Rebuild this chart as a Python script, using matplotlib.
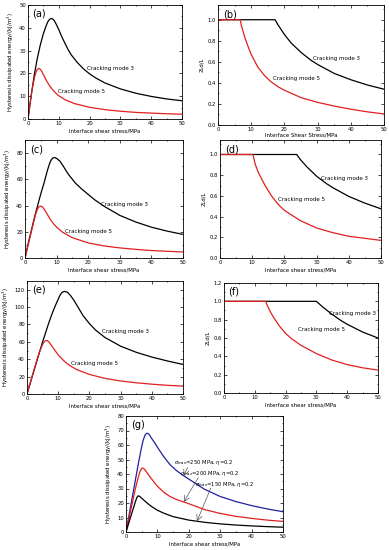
import matplotlib
matplotlib.use("Agg")
import matplotlib.pyplot as plt
from matplotlib.ticker import MultipleLocator, AutoMinorLocator

# ---- panel (a) ----
a_x3 = [0, 1, 2, 3, 4, 5, 6, 6.5, 7, 7.5, 8, 8.5, 9, 10, 11, 12, 13, 14, 16, 18, 20, 22, 25, 30, 35, 40, 45, 50]
a_y3 = [0, 10, 19, 26.5, 32.5, 37.5, 41.3, 42.8, 43.7, 44.1, 43.9, 43.2, 42.0, 39.2, 36.0, 33.2, 30.5, 28.2, 24.8, 22.0, 19.8, 18.0, 15.8, 13.2, 11.3, 9.9, 8.8, 8.0]
a_x5 = [0, 0.5, 1, 1.5, 2, 2.5, 3, 3.5, 4, 4.5, 5, 6, 7, 8, 9, 10, 12, 15, 20, 25, 30, 35, 40, 45, 50]
a_y5 = [0, 5, 10, 14, 17.5, 20.2, 21.7, 22.2, 21.8, 20.8, 19.5, 16.8, 14.6, 12.8, 11.4, 10.2, 8.5, 6.8, 5.1, 4.1, 3.4, 2.9, 2.6, 2.3, 2.1]

# ---- panel (c) ----
c_x3 = [0, 1, 2, 3, 4, 5, 6, 7, 7.5, 8, 8.5, 9, 9.5, 10, 11, 12, 13, 14, 15, 16, 18, 20, 22, 25, 30, 35, 40, 45, 50]
c_y3 = [0, 11, 21, 31, 40, 49, 57, 66, 70, 73.5, 75.5, 76.5, 76.5, 76.0, 74.0, 70.5, 66.5, 63.0, 60.0, 57.0, 52.5, 48.5, 44.5, 39.5, 32.5, 27.5, 23.5, 20.5, 18.0]
c_x5 = [0, 0.5, 1, 2, 3, 3.5, 4, 4.5, 5, 5.5, 6, 7, 8, 9, 10, 12, 15, 20, 25, 30, 35, 40, 45, 50]
c_y5 = [0, 5, 10, 20, 30, 34.5, 37.5, 39.2, 39.6, 39, 37.5, 33.5, 29.5, 26.2, 23.5, 19.5, 15.5, 11.5, 9.2, 7.7, 6.6, 5.7, 5.1, 4.6]

# ---- panel (e) ----
e_x3 = [0, 1, 2, 3, 4, 5, 6, 7, 8, 9, 10, 10.5, 11, 11.5, 12, 12.5, 13, 14, 15, 16, 17, 18, 20, 22, 25, 30, 35, 40, 45, 50]
e_y3 = [0, 12, 24, 36, 48, 60, 71, 82, 92, 101, 109, 113, 116, 117.5, 118, 117.5, 117, 113, 108, 102, 96, 90, 81, 73.5, 65, 55, 48, 42.5, 38, 34]
e_x5 = [0, 1, 2, 3, 4, 5, 5.5, 6, 6.5, 7, 8, 10, 12, 14, 16, 20, 25, 30, 35, 40, 45, 50]
e_y5 = [0, 12, 25, 37, 48.5, 57, 60, 61.5, 61.3, 60, 55, 45, 37.5, 32, 28, 22.5, 18, 15, 12.9, 11.3, 10, 9]

# ---- panel (g) ----
g_x250 = [0, 1, 2, 3, 4, 5, 5.5, 6, 6.5, 7, 7.5, 8, 9, 10, 12, 14, 16, 18, 20, 25, 30, 35, 40, 45, 50]
g_y250 = [0, 12, 24, 36, 48, 59, 63.5, 66.5, 68, 68, 67, 65, 62, 58.5, 52, 46.5, 42.5, 39.3, 36.5, 29.5, 24.5, 21, 18.2, 15.9, 14]
g_x200 = [0, 1, 2, 3, 4, 4.5, 5, 5.5, 6, 7, 8, 10, 12, 14, 16, 18, 20, 25, 30, 35, 40, 45, 50]
g_y200 = [0, 10, 20, 30, 38.5, 42, 44, 44, 43, 40, 37, 31.5, 27.5, 24.5, 22.5, 21, 19.5, 15.5, 12.8, 10.8, 9.4, 8.2, 7.3]
g_x150 = [0, 1, 2, 3, 3.5, 4, 4.5, 5.5, 7, 8, 10, 12, 15, 20, 25, 30, 35, 40, 45, 50]
g_y150 = [0, 7, 14, 21, 24, 25, 24.3, 22.3, 19.5, 17.8, 15, 13, 10.6, 8.2, 6.7, 5.6, 4.8, 4.2, 3.7, 3.3]

# ---- panel (b) ----
b_x3 = [0, 17.2, 18, 20, 22, 25, 28, 30, 35, 40, 45, 50]
b_y3 = [1.0, 1.0, 0.955, 0.86, 0.78, 0.69, 0.615, 0.575, 0.49, 0.43, 0.38, 0.34]
b_x5 = [0, 6.7, 7, 8, 9, 10, 12, 14, 16, 18, 20, 25, 30, 35, 40, 45, 50]
b_y5 = [1.0, 1.0, 0.95, 0.84, 0.75, 0.67, 0.55, 0.47, 0.41, 0.365, 0.33, 0.26, 0.215, 0.18, 0.15, 0.125, 0.105]

# ---- panel (d) ----
d_x3 = [0, 23.8, 25, 27, 30, 33, 35, 40, 45, 50]
d_y3 = [1.0, 1.0, 0.95, 0.88, 0.79, 0.72, 0.68, 0.595, 0.53, 0.475]
d_x5 = [0, 10.2, 11, 12, 13, 14, 16, 18, 20, 25, 30, 35, 40, 45, 50]
d_y5 = [1.0, 1.0, 0.9, 0.82, 0.76, 0.7, 0.6, 0.52, 0.46, 0.36, 0.29, 0.245, 0.21, 0.19, 0.17]

# ---- panel (f) ----
f_x3 = [0, 30, 32, 35, 38, 40, 45, 50]
f_y3 = [1.0, 1.0, 0.94, 0.86, 0.79, 0.75, 0.665, 0.6]
f_x5 = [0, 13.5, 14, 15, 16, 18, 20, 22, 25, 30, 35, 40, 45, 50]
f_y5 = [1.0, 1.0, 0.96, 0.89, 0.83, 0.73, 0.65, 0.59, 0.52, 0.43, 0.36, 0.31, 0.275, 0.25]

g_labels = [r"$\sigma_{max}$=250 MPa, $\eta$=0.2",
            r"$\sigma_{max}$=200 MPa, $\eta$=0.2",
            r"$\sigma_{max}$=150 MPa, $\eta$=0.2"]

W, H = 389, 550
TICK_FS = 3.8
XLAB_FS = 3.9
YLAB_FS = 3.9
TXT_FS = 4.0
RED = "#e02020"
ENERGY = "Hysteresis dissipated energy/(kJ/m$^3$)"


def make_axes(fig, left, right, top, bottom):
    return fig.add_axes([left / W, 1 - bottom / H, (right - left) / W, (bottom - top) / H])


def style(ax, ymax, ystep, letter, xlabel, ylabel, yfmt=None):
    ax.set_xlim(0, 50)
    ax.set_ylim(0, ymax)
    ax.xaxis.set_major_locator(MultipleLocator(10))
    ax.yaxis.set_major_locator(MultipleLocator(ystep))
    ax.xaxis.set_minor_locator(AutoMinorLocator(2))
    ax.yaxis.set_minor_locator(AutoMinorLocator(2))
    ax.tick_params(which="both", direction="in", top=True, right=True,
                   labelsize=TICK_FS, width=0.5, pad=1.5)
    ax.tick_params(which="major", length=2)
    ax.tick_params(which="minor", length=1)
    for s in ax.spines.values():
        s.set_linewidth(0.6)
    if yfmt:
        ax.yaxis.set_major_formatter(yfmt)
    ax.set_xlabel(xlabel, fontsize=XLAB_FS, labelpad=2)
    ax.set_ylabel(ylabel, fontsize=YLAB_FS, labelpad=2.5)
    ax.text(0.03, 0.965, letter, transform=ax.transAxes, fontsize=7,
            ha="left", va="top")


fig = plt.figure(figsize=(W / 100, H / 100), dpi=100)

# (a)
ax = make_axes(fig, 28, 182, 5, 119)
ax.plot(a_x3, a_y3, color="black", lw=0.9)
ax.plot(a_x5, a_y5, color=RED, lw=0.9)
style(ax, 50, 10, "(a)", "Interface shear stress/MPa", ENERGY)
ax.text(19, 22.3, "Cracking mode 3", fontsize=TXT_FS, va="center")
ax.text(9.9, 12, "Cracking mode 5", fontsize=TXT_FS, va="center")

# (b)
ax = make_axes(fig, 218, 384, 5, 125)
ax.plot(b_x3, b_y3, color="black", lw=0.9)
ax.plot(b_x5, b_y5, color=RED, lw=0.9)
style(ax, 1.14, 0.2, "(b)", "Interface Shear Stress/MPa", "2Ld/L", "{x:.1f}")
ax.xaxis.labelpad = 0.5
ax.text(28.5, 0.63, "Cracking mode 3", fontsize=TXT_FS, va="center")
ax.text(16.5, 0.44, "Cracking mode 5", fontsize=TXT_FS, va="center")

# (c)
ax = make_axes(fig, 25, 183, 140, 258)
ax.plot(c_x3, c_y3, color="black", lw=0.9)
ax.plot(c_x5, c_y5, color=RED, lw=0.9)
style(ax, 90, 20, "(c)", "Interface shear stress/MPa", ENERGY)
ax.text(24.2, 40.5, "Cracking mode 3", fontsize=TXT_FS, va="center")
ax.text(12.6, 20.5, "Cracking mode 5", fontsize=TXT_FS, va="center")

# (d)
ax = make_axes(fig, 220, 381, 140, 258)
ax.plot(d_x3, d_y3, color="black", lw=0.9)
ax.plot(d_x5, d_y5, color=RED, lw=0.9)
style(ax, 1.14, 0.2, "(d)", "Interface shear stress/MPa", "2Ld/L", "{x:.1f}")
ax.text(31.5, 0.77, "Cracking mode 3", fontsize=TXT_FS, va="center")
ax.text(18, 0.57, "Cracking mode 5", fontsize=TXT_FS, va="center")

# (e)
ax = make_axes(fig, 27, 183, 281, 394)
ax.plot(e_x3, e_y3, color="black", lw=0.9)
ax.plot(e_x5, e_y5, color=RED, lw=0.9)
style(ax, 130, 20, "(e)", "Interface shear stress/MPa", ENERGY)
ax.text(24, 72, "Cracking mode 3", fontsize=TXT_FS, va="center")
ax.text(14.2, 35, "Cracking mode 5", fontsize=TXT_FS, va="center")

# (f)
ax = make_axes(fig, 224, 378, 283, 393)
ax.plot(f_x3, f_y3, color="black", lw=0.9)
ax.plot(f_x5, f_y5, color=RED, lw=0.9)
style(ax, 1.2, 0.2, "(f)", "Interface shear stress/MPa", "2Ld/L", "{x:.1f}")
ax.text(34, 0.87, "Cracking mode 3", fontsize=TXT_FS, va="center")
ax.text(24, 0.69, "Cracking mode 5", fontsize=TXT_FS, va="center")

# (g)
ax = make_axes(fig, 126, 283, 416, 532)
ax.plot(g_x250, g_y250, color="#2020a0", lw=0.9)
ax.plot(g_x200, g_y200, color=RED, lw=0.9)
ax.plot(g_x150, g_y150, color="black", lw=0.9)
style(ax, 80, 10, "(g)", "Interface shear stress/MPa", ENERGY)
arrow = dict(arrowstyle="->", color="#555555", lw=0.5, shrinkA=0, shrinkB=0)
ax.text(15.2, 47.6, g_labels[0], fontsize=3.8, va="center")
ax.text(17.3, 40.2, g_labels[1], fontsize=3.8, va="center")
ax.text(22.0, 32.9, g_labels[2], fontsize=3.8, va="center")
ax.annotate("", xy=(18.4, 38.6), xytext=(19.6, 44.5), arrowprops=arrow)
ax.annotate("", xy=(18.4, 20.7), xytext=(23.0, 37.5), arrowprops=arrow)
ax.annotate("", xy=(22.6, 7.4), xytext=(27.0, 30.3), arrowprops=arrow)

fig.savefig("out.png", dpi=100)
